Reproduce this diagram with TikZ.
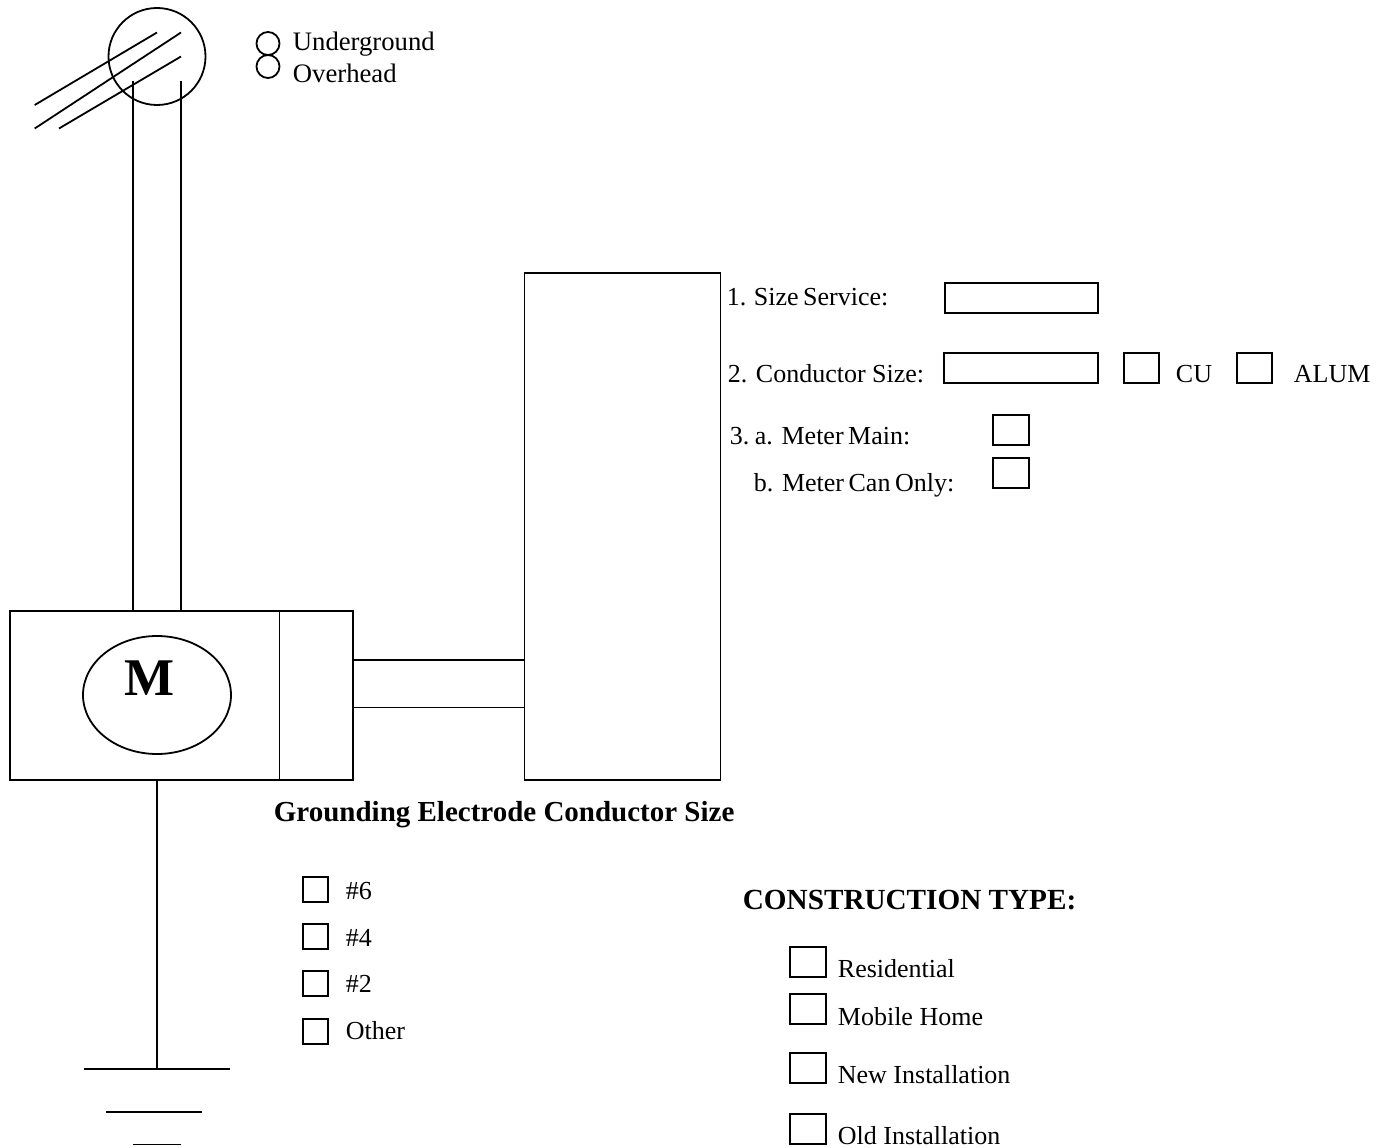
\documentclass[tikz,border=0pt]{standalone}
\usepackage{fontspec}
\usetikzlibrary{shapes.geometric}
\setmainfont{Liberation Serif}
\begin{document}
\begin{tikzpicture}[x=1pt,y=-1pt,line width=1.8pt,
  txt/.style={anchor=base west,inner sep=0pt,font=\fontsize{26}{28}\selectfont},
  cb/.style={draw,anchor=north west,inner sep=0pt,outer sep=0pt},
  radio/.style={draw,circle,minimum size=23,inner sep=0pt,outer sep=0pt}]
\path[use as bounding box] (0,0) rectangle (1387,1148);
% service head
\node[draw,circle,minimum size=97,inner sep=0pt] (head) at (157,56.5) {};
\coordinate (w1a) at (34.7,105); \coordinate (w1b) at (157,32.5);
\coordinate (w2a) at (34.7,128.5); \coordinate (w2b) at (181,32.5);
\coordinate (w3a) at (59,128.5); \coordinate (w3b) at (181,56.5);
\draw (w1a)--(w1b); \draw (w2a)--(w2b); \draw (w3a)--(w3b);
\node[radio] (r1) at (268,43.5) {};
\node[radio] (r2) at (268,66.5) {};
\node[txt,font=\fontsize{26.7}{28}\selectfont] (t1) at (292,51) {Underground};
\node[txt,font=\fontsize{26.7}{28}\selectfont] (t2) at (292,83) {Overhead};
% meter
\node[cb,minimum width=343,minimum height=169] (meter) at (10,611) {};
\coordinate (d1) at (279.5,611); \coordinate (d2) at (279.5,780);
\draw (d1)--(d2);
\node[draw,ellipse,minimum width=148,minimum height=118,inner sep=0pt] (m) at (157,695) {};
\node[inner sep=0pt,font=\bfseries\fontsize{53}{56}\selectfont] (mt) at (150,678) {M};
\coordinate (c1) at (133,81); \coordinate (c1b) at (133,611);
\coordinate (c2) at (181,81); \coordinate (c2b) at (181,611);
\draw (c1)--(c1b); \draw (c2)--(c2b);
% panel
\node[cb,minimum width=196,minimum height=507] (panel) at (524.5,273) {};
\coordinate (e1) at (353,660); \coordinate (e1b) at (524.5,660);
\coordinate (e2) at (353,707.5); \coordinate (e2b) at (524.5,707.5);
\draw (e1)--(e1b); \draw (e2)--(e2b);
% ground
\coordinate (g0) at (157,780); \coordinate (g1) at (157,1069);
\draw (g0)--(g1);
\coordinate (ga) at (84,1069); \coordinate (gb) at (230,1069);
\coordinate (gc) at (106,1112); \coordinate (gd) at (202,1112);
\coordinate (ge) at (133,1144.5); \coordinate (gf) at (181,1144.5);
\draw (ga)--(gb); \draw (gc)--(gd); \draw (ge)--(gf);
% form
\node[txt] at (726,305) {1.};
\node[txt] at (753,305) {Size\hspace{-2pt} Service:};
\node[cb,minimum width=153,minimum height=30] (b1) at (945,283) {};
\node[txt] at (727,382.5) {2.};
\node[txt] at (755,382.5) {Conductor Size:};
\node[cb,minimum width=154,minimum height=30] (b2) at (944,353) {};
\node[cb,minimum width=35,minimum height=30] (b3) at (1124,353) {};
\node[txt] at (1175,382.5) {CU};
\node[cb,minimum width=35,minimum height=30] (b4) at (1237,353) {};
\node[txt] at (1293,382.5) {ALUM};
\node[txt] at (729,444.5) {3.};
\node[txt] at (754,444.5) {a. Meter\hspace{-2pt} Main:};
\node[cb,minimum width=36,minimum height=30] (b5) at (993,415) {};
\node[txt] at (753,491.5) {b. Meter\hspace{-2pt} Can\hspace{-2pt} Only:};
\node[cb,minimum width=36,minimum height=30] (b6) at (993,458) {};
\node[txt,font=\bfseries\fontsize{29}{32}\selectfont] at (273,821.5) {Grounding Electrode Conductor Size};
\foreach \n/\y/\ty/\t in {a/877/899/\#6,b/924/946/\#4,c/971/992/\#2,d/1019/1039/Other}{
  \node[cb,minimum width=25,minimum height=25] (s\n) at (303,\y) {};
  \node[txt] at (345,\ty) {\t};
}
\node[txt,font=\bfseries\fontsize{29.2}{32}\selectfont] at (742,909) {CONSTRUCTION TYPE:};
\foreach \n/\y/\ty/\t in {a/947/977/Residential,b/994/1025/Mobile Home,c/1053/1083/New Installation,d/1114/1144/Old Installation}{
  \node[cb,minimum width=36,minimum height=30] (k\n) at (790,\y) {};
  \node[txt] at (837,\ty) {\t};
}
\end{tikzpicture}
\end{document}
